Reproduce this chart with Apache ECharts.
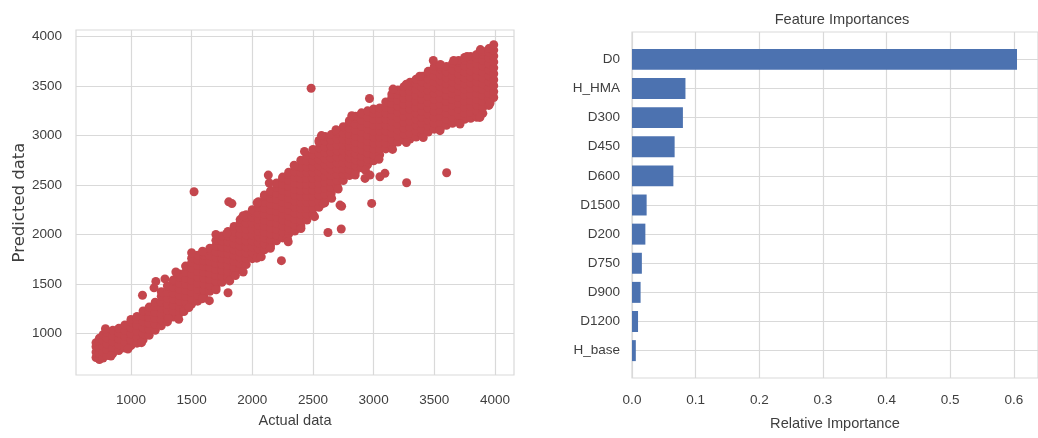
<!DOCTYPE html>
<html>
<head>
<meta charset="utf-8">
<script src="https://cdn.jsdelivr.net/npm/echarts@6/dist/echarts.min.js"></script>
<style>
  html, body { margin: 0; padding: 0; background: #ffffff; }
  #chart { width: 1038px; height: 438px; }
</style>
</head>
<body>
<div id="chart"></div>
<script>
// ---- Scatter: actual vs predicted ----
// Main cloud, one column of predicted values per actual value.
const actualCols = [712, 740, 770, 800, 850, 900, 950, 1000, 1050, 1100, 1150, 1200, 1250, 1300, 1350,
  1400, 1450, 1500, 1550, 1600, 1650, 1700, 1750, 1800, 1850, 1900, 1950, 2000, 2050, 2100, 2150, 2200,
  2250, 2300, 2350, 2400, 2450, 2500, 2550, 2600, 2650, 2700, 2750, 2800, 2850, 2900, 2950, 3000, 3050,
  3100, 3150, 3200, 3250, 3300, 3350, 3400, 3450, 3500, 3550, 3600, 3650, 3700, 3750, 3800, 3850, 3900,
  3950, 3990];
const predictedCols = [
  [755, 810, 865, 905],
  [735, 795, 855, 915, 950],
  [750, 810, 870, 930, 985],
  [775, 835, 895, 955, 1010],
  [795, 855, 915, 975, 1030],
  [825, 885, 945, 1005, 1050],
  [850, 910, 970, 1030, 1085],
  [875, 935, 995, 1055, 1115, 1140],
  [900, 960, 1020, 1080, 1140, 1170],
  [935, 995, 1055, 1115, 1175, 1225],
  [980, 1040, 1100, 1160, 1220, 1265],
  [1030, 1090, 1150, 1210, 1270, 1315],
  [1075, 1135, 1195, 1255, 1315, 1375, 1420],
  [1115, 1175, 1235, 1295, 1355, 1415, 1480],
  [1165, 1225, 1285, 1345, 1405, 1465, 1525, 1540],
  [1205, 1265, 1325, 1385, 1445, 1505, 1565, 1600],
  [1255, 1315, 1375, 1435, 1495, 1555, 1615, 1680],
  [1295, 1355, 1415, 1475, 1535, 1595, 1655, 1715, 1760],
  [1325, 1385, 1445, 1505, 1565, 1625, 1685, 1745, 1790],
  [1375, 1435, 1495, 1555, 1615, 1675, 1735, 1790, 1820],
  [1425, 1485, 1545, 1605, 1665, 1725, 1785, 1840, 1860],
  [1465, 1525, 1585, 1645, 1705, 1765, 1825, 1885, 1940],
  [1515, 1575, 1635, 1695, 1755, 1815, 1875, 1935, 1985],
  [1565, 1625, 1685, 1745, 1805, 1865, 1925, 1985, 2030],
  [1605, 1665, 1725, 1785, 1845, 1905, 1965, 2025, 2080],
  [1645, 1705, 1765, 1825, 1885, 1945, 2005, 2065, 2120, 2150],
  [1695, 1755, 1815, 1875, 1935, 1995, 2055, 2115, 2170, 2200],
  [1755, 1815, 1875, 1935, 1995, 2055, 2115, 2175, 2230, 2250],
  [1795, 1855, 1915, 1975, 2035, 2095, 2155, 2215, 2275, 2330],
  [1845, 1905, 1965, 2025, 2085, 2145, 2205, 2265, 2325, 2385, 2400],
  [1885, 1945, 2005, 2065, 2125, 2185, 2245, 2305, 2365, 2420, 2440],
  [1935, 1995, 2055, 2115, 2175, 2235, 2295, 2355, 2415, 2475, 2520],
  [1965, 2025, 2085, 2145, 2205, 2265, 2325, 2385, 2445, 2505, 2565, 2580],
  [2005, 2065, 2125, 2185, 2245, 2305, 2365, 2425, 2485, 2545, 2605, 2630],
  [2035, 2095, 2155, 2215, 2275, 2335, 2395, 2455, 2515, 2575, 2635, 2690],
  [2085, 2145, 2205, 2265, 2325, 2385, 2445, 2505, 2565, 2625, 2685, 2750],
  [2145, 2205, 2265, 2325, 2385, 2445, 2505, 2565, 2625, 2685, 2745, 2800],
  [2205, 2265, 2325, 2385, 2445, 2505, 2565, 2625, 2685, 2745, 2805, 2860],
  [2275, 2335, 2395, 2455, 2515, 2575, 2635, 2695, 2755, 2815, 2875, 2935, 2950],
  [2345, 2405, 2465, 2525, 2585, 2645, 2705, 2765, 2825, 2885, 2945, 2990],
  [2415, 2475, 2535, 2595, 2655, 2715, 2775, 2835, 2895, 2955, 3010],
  [2485, 2545, 2605, 2665, 2725, 2785, 2845, 2905, 2965, 3025, 3040],
  [2545, 2605, 2665, 2725, 2785, 2845, 2905, 2965, 3025, 3090],
  [2595, 2655, 2715, 2775, 2835, 2895, 2955, 3015, 3075, 3135, 3150],
  [2635, 2695, 2755, 2815, 2875, 2935, 2995, 3055, 3115, 3175, 3195],
  [2675, 2735, 2795, 2855, 2915, 2975, 3035, 3095, 3155, 3215, 3230],
  [2705, 2765, 2825, 2885, 2945, 3005, 3065, 3125, 3185, 3250],
  [2745, 2805, 2865, 2925, 2985, 3045, 3105, 3165, 3225, 3270],
  [2805, 2865, 2925, 2985, 3045, 3105, 3165, 3225, 3280],
  [2865, 2925, 2985, 3045, 3105, 3165, 3225, 3285, 3340],
  [2905, 2965, 3025, 3085, 3145, 3205, 3265, 3325, 3385, 3420],
  [2935, 2995, 3055, 3115, 3175, 3235, 3295, 3355, 3415, 3460],
  [2955, 3015, 3075, 3135, 3195, 3255, 3315, 3375, 3435, 3495],
  [2965, 3025, 3085, 3145, 3205, 3265, 3325, 3385, 3445, 3505, 3540],
  [2985, 3045, 3105, 3165, 3225, 3285, 3345, 3405, 3465, 3525, 3570],
  [3005, 3065, 3125, 3185, 3245, 3305, 3365, 3425, 3485, 3545, 3600],
  [3035, 3095, 3155, 3215, 3275, 3335, 3395, 3455, 3515, 3575, 3635, 3650],
  [3065, 3125, 3185, 3245, 3305, 3365, 3425, 3485, 3545, 3605, 3665, 3700],
  [3075, 3135, 3195, 3255, 3315, 3375, 3435, 3495, 3555, 3615, 3675, 3700],
  [3105, 3165, 3225, 3285, 3345, 3405, 3465, 3525, 3585, 3645, 3700],
  [3125, 3185, 3245, 3305, 3365, 3425, 3485, 3545, 3605, 3665, 3730],
  [3145, 3205, 3265, 3325, 3385, 3445, 3505, 3565, 3625, 3685, 3745, 3760],
  [3165, 3225, 3285, 3345, 3405, 3465, 3525, 3585, 3645, 3705, 3765, 3790],
  [3175, 3235, 3295, 3355, 3415, 3475, 3535, 3595, 3655, 3715, 3775, 3800],
  [3185, 3245, 3305, 3365, 3425, 3485, 3545, 3605, 3665, 3725, 3785, 3820],
  [3225, 3285, 3345, 3405, 3465, 3525, 3585, 3645, 3705, 3765, 3825, 3850],
  [3305, 3365, 3425, 3485, 3545, 3605, 3665, 3725, 3785, 3845, 3880],
  [3385, 3445, 3505, 3565, 3625, 3685, 3745, 3805, 3865, 3920]
];
// Points along the ragged upper and lower edges of the cloud.
const edgePoints = [
  [790, 1046], [1095, 1385], [1190, 1460], [1205, 1525], [1280, 1550], [1370, 1620], [1500, 1815],
  [1590, 1830], [1700, 2000], [1790, 2010], [1925, 2190], [2040, 2320], [2132, 2600], [2140, 2520],
  [2345, 2700], [2430, 2840], [2570, 3000], [2690, 3060], [2820, 3200], [3160, 3470], [3270, 3520],
  [3380, 3600], [3492, 3760], [3550, 3720], [3660, 3760], [3770, 3800], [3880, 3870],
  [835, 770], [975, 840], [1087, 905], [1310, 1150], [1437, 1220], [1478, 1260], [1590, 1350],
  [1702, 1440], [1814, 1530], [1925, 1620], [2037, 1760], [2149, 1860], [2289, 1960], [2401, 2060],
  [2513, 2180], [2597, 2320], [2708, 2460], [2848, 2600], [2932, 2650], [3044, 2760], [3156, 2860],
  [3270, 2930], [3409, 2980], [3547, 3050], [3712, 3117], [3876, 3184], [3960, 3330]
];
// Isolated points away from the cloud.
const strayPoints = [
  [1520, 2432], [1806, 2330], [1832, 2312], [1861, 1585], [1800, 1410], [1646, 1330], [1394, 1141],
  [2074, 1773], [2240, 1735], [2296, 1926], [2485, 3479], [2966, 3375], [2624, 2020], [2733, 2055],
  [2736, 2285], [2723, 2297], [2654, 2365], [2585, 2314], [2984, 2314], [2929, 2567], [2970, 2600],
  [3093, 2618], [3052, 2583], [3272, 2523], [3602, 2624]
];
const actualTicks = [1000, 1500, 2000, 2500, 3000, 3500, 4000];
const predictedTicks = [1000, 1500, 2000, 2500, 3000, 3500, 4000];

// ---- Feature importances (bottom to top) ----
const features = ['H_base', 'D1200', 'D900', 'D750', 'D200', 'D1500', 'D600', 'D450', 'D300', 'H_HMA', 'D0'];
const importances = [0.006, 0.0095, 0.0135, 0.0155, 0.021, 0.023, 0.065, 0.067, 0.080, 0.084, 0.605];
const importanceTicks = [0, 0.1, 0.2, 0.3, 0.4, 0.5, 0.6];
const featureTicks = [0, 1, 2, 3, 4, 5, 6, 7, 8, 9, 10];

// ---- Styling ----
const FONT = '"Liberation Sans", Arial, Helvetica, sans-serif';
const TEXT = '#3e3e3e';
const LINE = '#d9d9d9';
const RED = '#c4464d';
const BLUE = '#4c72b0';
const BAR_HEIGHT = 0.72;
const DOT_SIZE = 9;

const scatterData = [];
actualCols.forEach((x, i) => predictedCols[i].forEach(y => scatterData.push([x, y])));
edgePoints.forEach(p => scatterData.push(p));
strayPoints.forEach(p => scatterData.push(p));

const tickText = { fontFamily: FONT, fontSize: 13.5, color: TEXT };
const nameText = { fontFamily: FONT, fontSize: 14.6, color: TEXT };
const split = { show: true, lineStyle: { color: LINE, width: 1.2 } };
const plain = v => String(Math.round(v));

const chart = echarts.init(document.getElementById('chart'), null, { renderer: 'canvas' });
chart.setOption({
  animation: false,
  backgroundColor: '#ffffff',
  title: {
    text: 'Feature Importances',
    left: 837, top: 7, textAlign: 'center',
    textStyle: { fontFamily: FONT, fontSize: 14.6, fontWeight: 'normal', color: TEXT }
  },
  grid: [
    { left: 76, top: 30, width: 438, height: 345, show: true, borderColor: LINE, borderWidth: 1.2 },
    { left: 632, top: 32, width: 411, height: 346, show: true, borderColor: LINE, borderWidth: 1.2 }
  ],
  xAxis: [
    {
      gridIndex: 0, type: 'value', min: 547, max: 4157,
      name: 'Actual data', nameLocation: 'middle', nameGap: 38, nameTextStyle: nameText,
      axisLine: { show: false },
      axisTick: { show: false, customValues: actualTicks },
      axisLabel: { customValues: actualTicks, margin: 18, formatter: plain, ...tickText },
      splitLine: split
    },
    {
      gridIndex: 1, type: 'value', min: 0, max: 0.638,
      name: 'Relative Importance', nameLocation: 'middle', nameGap: 38, nameTextStyle: nameText,
      axisLine: { show: false },
      axisTick: { show: false, customValues: importanceTicks },
      axisLabel: { customValues: importanceTicks, margin: 15, formatter: v => v.toFixed(1), ...tickText },
      splitLine: split
    }
  ],
  yAxis: [
    {
      gridIndex: 0, type: 'value', min: 578, max: 4068,
      name: 'Predicted data', nameLocation: 'middle', nameGap: 48,
      nameTextStyle: { fontFamily: '"DejaVu Sans", sans-serif', fontSize: 16.5, color: TEXT },
      axisLine: { show: false },
      axisTick: { show: false, customValues: predictedTicks },
      axisLabel: { customValues: predictedTicks, margin: 14, formatter: plain, ...tickText },
      splitLine: split
    },
    {
      gridIndex: 1, type: 'value', min: -0.94, max: 10.94,
      axisLine: { show: false },
      axisTick: { show: false, customValues: featureTicks },
      axisLabel: { customValues: featureTicks, margin: 12, formatter: v => features[Math.round(v)], ...tickText },
      splitLine: split
    }
  ],
  series: [
    {
      // Dots drawn as opaque discs through the cartesian coordinate system.
      type: 'custom', xAxisIndex: 0, yAxisIndex: 0,
      data: scatterData,
      encode: { x: 0, y: 1 },
      renderItem: (params, api) => {
        const p = api.coord([api.value(0), api.value(1)]);
        return {
          type: 'circle',
          shape: { cx: p[0], cy: p[1], r: DOT_SIZE / 2 },
          style: { fill: RED }
        };
      },
      silent: true
    },
    {
      type: 'custom', xAxisIndex: 1, yAxisIndex: 1,
      data: importances.map((v, i) => [v, i]),
      encode: { x: 0, y: 1 },
      renderItem: (params, api) => {
        const row = api.value(1);
        const start = api.coord([0, row]);
        const end = api.coord([api.value(0), row]);
        const h = api.size([0, BAR_HEIGHT])[1];
        return {
          type: 'rect',
          shape: { x: start[0], y: start[1] - h / 2, width: end[0] - start[0], height: h },
          style: { fill: BLUE }
        };
      },
      silent: true
    }
  ]
});
</script>
</body>
</html>
